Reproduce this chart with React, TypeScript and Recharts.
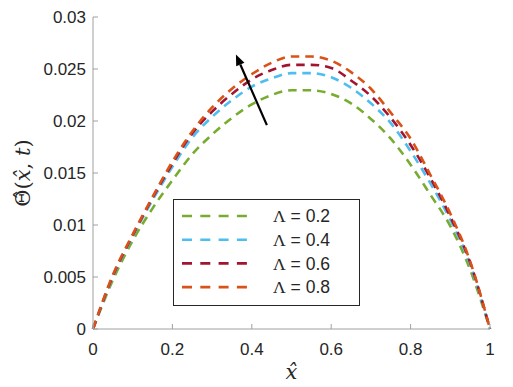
import React from "react"
import { LineChart, Line, XAxis, YAxis, Legend, ReferenceLine, Label } from "recharts"

// x positions along the plate
const xs = [0, 0.05, 0.1, 0.15, 0.2, 0.25, 0.3, 0.35, 0.4, 0.45, 0.5, 0.55, 0.6, 0.65, 0.7, 0.75, 0.8, 0.85, 0.9, 0.95, 1]

// Theta for each Lambda
const lambda02 = [0, 0.0047, 0.0085, 0.0116, 0.0143, 0.0168, 0.0187, 0.0203, 0.0216, 0.0225, 0.02295, 0.02295, 0.0226, 0.0217, 0.0202, 0.0183, 0.0158, 0.0129, 0.0099, 0.0057, 0]
const lambda04 = [0, 0.005, 0.0089, 0.0124, 0.0156, 0.0184, 0.0204, 0.022, 0.0233, 0.0241, 0.0246, 0.0246, 0.0242, 0.0232, 0.0217, 0.0198, 0.0171, 0.014, 0.0105, 0.0062, 0]
const lambda06 = [0, 0.0051, 0.009, 0.0126, 0.0159, 0.0188, 0.0209, 0.0226, 0.024, 0.0249, 0.0254, 0.0254, 0.0251, 0.0239, 0.0224, 0.0203, 0.0177, 0.0145, 0.0108, 0.0064, 0]
const lambda08 = [0, 0.0052, 0.0091, 0.0127, 0.0161, 0.019, 0.0213, 0.0231, 0.0245, 0.0256, 0.0262, 0.0262, 0.0258, 0.0247, 0.0231, 0.0208, 0.0183, 0.0148, 0.0111, 0.0065, 0]

const xTicks = [0, 0.2, 0.4, 0.6, 0.8, 1]
const yTicks = [0, 0.005, 0.01, 0.015, 0.02, 0.025, 0.03]

// arrow annotation (tail -> head), data units
const arrowFrom = { x: 0.438, y: 0.0196 }
const arrowTo = { x: 0.36, y: 0.0264 }

const series = [
  { key: "l02", name: "0.2", color: "#77AC30" },
  { key: "l04", name: "0.4", color: "#4DBEEE" },
  { key: "l06", name: "0.6", color: "#A2142F" },
  { key: "l08", name: "0.8", color: "#D95319" },
]

const data = xs.map((x, i) => ({
  x,
  l02: lambda02[i],
  l04: lambda04[i],
  l06: lambda06[i],
  l08: lambda08[i],
}))

const AXIS = "#a0a0a0"
const TEXT = "#262626"
const FONT = "'Liberation Sans', Arial, sans-serif"
const TICK_LEN = 5

function BottomTick(props: any) {
  const { x, y, payload } = props
  const base = y - 14
  return (
    <g>
      <line x1={x} x2={x} y1={base} y2={base - TICK_LEN} stroke={AXIS} />
      <text x={x} y={y} dy="0.71em" textAnchor="middle" fill={TEXT} fontSize={17} fontFamily={FONT}>
        {String(payload.value)}
      </text>
    </g>
  )
}

function LeftTick(props: any) {
  const { x, y, payload } = props
  const base = x + 7
  return (
    <g>
      <line x1={base} x2={base + TICK_LEN} y1={y} y2={y} stroke={AXIS} />
      <text x={x} y={y} dy="0.355em" textAnchor="end" fill={TEXT} fontSize={17} fontFamily={FONT}>
        {String(payload.value)}
      </text>
    </g>
  )
}

function TopTick(props: any) {
  const { x, y } = props
  return <line x1={x} x2={x} y1={y} y2={y + TICK_LEN} stroke={AXIS} />
}

function RightTick(props: any) {
  const { x, y } = props
  return <line x1={x} x2={x - TICK_LEN} y1={y} y2={y} stroke={AXIS} />
}

function Arrow(props: any) {
  const { x1, y1, x2, y2 } = props
  const dx = x2 - x1
  const dy = y2 - y1
  const len = Math.sqrt(dx * dx + dy * dy)
  const ux = dx / len
  const uy = dy / len
  const head = 11
  const half = 4.5
  const bx = x2 - ux * head
  const by = y2 - uy * head
  return (
    <g>
      <line x1={x1} y1={y1} x2={bx} y2={by} stroke="#000" strokeWidth={2.2} />
      <polygon
        points={`${x2},${y2} ${bx - uy * half},${by + ux * half} ${bx + uy * half},${by - ux * half}`}
        fill="#000"
      />
    </g>
  )
}

function LegendBox(props: any) {
  const items = props.payload || []
  return (
    <svg width={187} height={107} style={{ display: "block" }}>
      <rect x={0.5} y={0.5} width={186} height={106} fill="#fff" stroke={TEXT} strokeWidth={1} />
      {items.map((item: any, i: number) => {
        const cy = 17 + i * 23.7
        return (
          <g key={item.value}>
            <line x1={9} x2={74} y1={cy} y2={cy} stroke={item.color} strokeWidth={2.6} strokeDasharray="10 8.3" />
            <text x={100} y={cy} dy="0.355em" fill={TEXT} fontSize={17.5} fontFamily={FONT}>
              <tspan fontFamily="'Liberation Serif', serif">Λ</tspan>
              {" = " + item.value}
            </text>
          </g>
        )
      })}
    </svg>
  )
}

export default function App() {
  return (
    <div style={{ position: "absolute", left: 0, top: 0, background: "#fff" }}>
      <LineChart width={513} height={387} data={data} margin={{ top: 17, right: 23, bottom: 0, left: 0 }}>
        <XAxis
          dataKey="x"
          type="number"
          domain={[0, 1]}
          ticks={xTicks}
          interval={0}
          height={58}
          tickSize={0}
          tickMargin={14}
          tick={<BottomTick />}
          axisLine={{ stroke: AXIS }}
        >
          <Label
            content={(p: any) => {
              const vb = p.viewBox
              return (
                <text
                  x={vb.x + vb.width / 2}
                  y={vb.y + 43}
                  dy="0.35em"
                  textAnchor="middle"
                  fill={TEXT}
                  fontSize={21}
                  fontStyle="italic"
                  fontFamily="'DejaVu Serif', serif"
                >
                  x̂
                </text>
              )
            }}
          />
        </XAxis>
        <XAxis
          xAxisId="top"
          dataKey="x"
          type="number"
          orientation="top"
          domain={[0, 1]}
          ticks={xTicks}
          interval={0}
          height={0}
          tickSize={0}
          tickMargin={0}
          tick={<TopTick />}
          axisLine={{ stroke: AXIS }}
        />
        <YAxis
          type="number"
          domain={[0, 0.03]}
          ticks={yTicks}
          interval={0}
          width={93}
          tickSize={0}
          tickMargin={7}
          tick={<LeftTick />}
          axisLine={{ stroke: AXIS }}
        >
          <Label
            content={(p: any) => {
              const vb = p.viewBox
              const cx = vb.x + 23
              const cy = vb.y + vb.height / 2
              return (
                <text
                  x={cx}
                  y={cy}
                  dy="0.35em"
                  textAnchor="middle"
                  transform={`rotate(-90, ${cx}, ${cy})`}
                  fill={TEXT}
                  fontSize={21}
                  fontFamily="'DejaVu Serif', serif"
                >
                  Θ̂(<tspan fontStyle="italic">x̂</tspan>, <tspan fontStyle="italic">t</tspan>)
                </text>
              )
            }}
          />
        </YAxis>
        <YAxis
          yAxisId="right"
          type="number"
          orientation="right"
          domain={[0, 0.03]}
          ticks={yTicks}
          interval={0}
          width={0}
          tickSize={0}
          tickMargin={0}
          tick={<RightTick />}
          axisLine={{ stroke: AXIS }}
        />
        {series.map((s) => (
          <Line
            key={s.key}
            dataKey={s.key}
            name={s.name}
            type="monotone"
            stroke={s.color}
            strokeWidth={2.6}
            strokeDasharray="8.5 6"
            dot={false}
            isAnimationActive={false}
          />
        ))}
        <ReferenceLine
          segment={[arrowFrom, arrowTo]}
          stroke="#000"
          shape={(p: any) => <Arrow {...p} />}
          ifOverflow="visible"
        />
        <Legend
          layout="horizontal"
          verticalAlign="middle"
          align="center"
          wrapperStyle={{ left: 173, top: 199, width: 187, height: 107 }}
          content={<LegendBox />}
        />
      </LineChart>
    </div>
  )
}
